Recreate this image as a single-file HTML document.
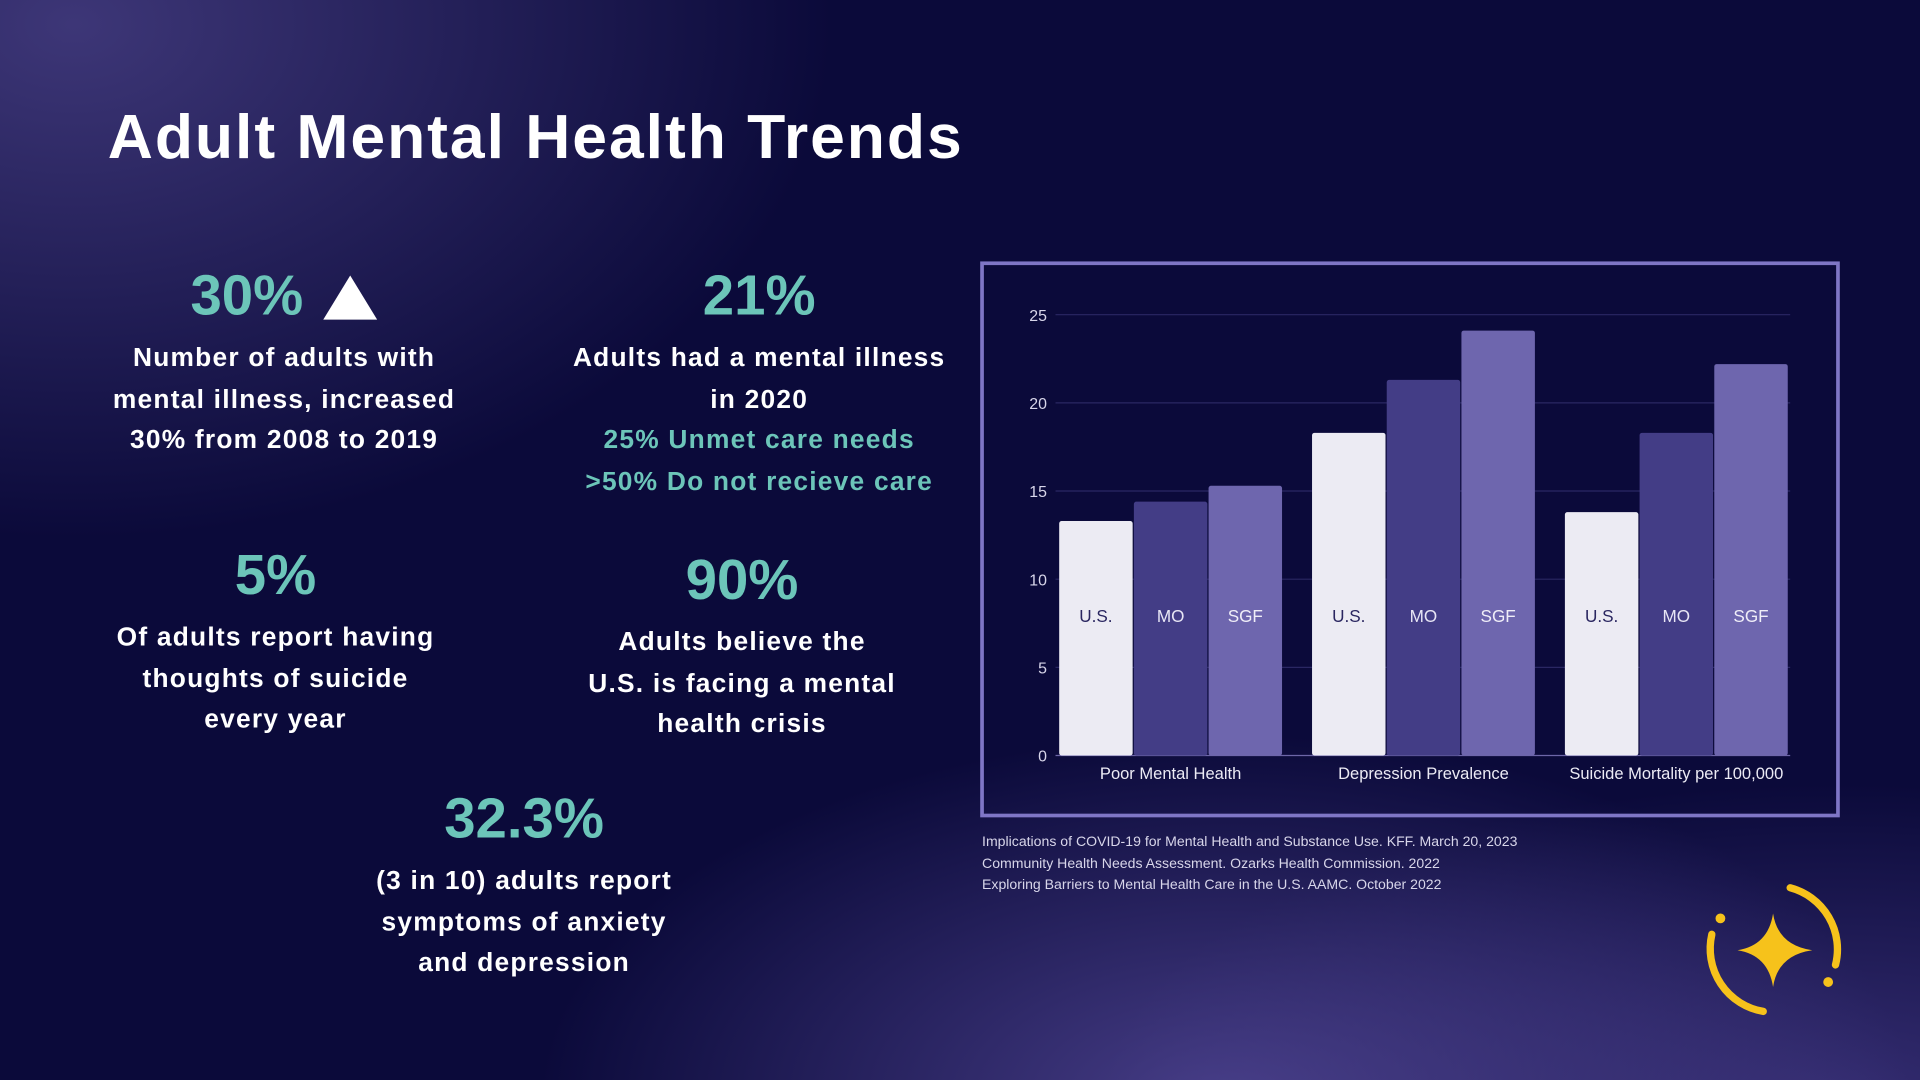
<!DOCTYPE html>
<html><head><meta charset="utf-8">
<style>
html,body{margin:0;padding:0;width:1920px;height:1080px;overflow:hidden;background:#0b0a3a}
#stage{position:absolute;left:0;top:0;width:1568px;height:882px;transform:scale(1.2244898);transform-origin:0 0;
background:
radial-gradient(ellipse 620px 420px at 60px 20px,rgba(70,62,130,.85),rgba(70,62,130,0) 100%),
radial-gradient(ellipse 560px 300px at 1000px 900px,rgba(90,78,160,.75),rgba(90,78,160,0) 100%),
radial-gradient(ellipse 600px 260px at 1500px 900px,rgba(80,68,150,.6),rgba(80,68,150,0) 100%),
#0b0a3a;font-family:"Liberation Sans",sans-serif;color:#fff}
.t{position:absolute;text-align:center;font-weight:bold}
.big{color:#6cc5b9;font-size:46px;line-height:50px}
.txt{font-size:21.5px;line-height:33.5px;letter-spacing:1px}
.teal{color:#6cc5b9}
</style></head><body>
<div id="stage">
<div style="position:absolute;left:88px;top:82px;font-size:51px;font-weight:bold;letter-spacing:1.6px">Adult Mental Health Trends</div>

<div class="t" style="left:52px;width:360px;top:216px">
<div class="big">30% <span style="display:inline-block;width:0;height:0;border-left:22px solid transparent;border-right:22px solid transparent;border-bottom:36px solid #fff;vertical-align:-4px;margin-left:4px"></span></div>
<div class="txt" style="margin-top:10px">Number of adults with<br>mental illness, increased<br>30% from 2008 to 2019</div></div>

<div class="t" style="left:420px;width:400px;top:216px">
<div class="big">21%</div>
<div class="txt" style="margin-top:10px">Adults had a mental illness<br>in 2020<br><span class="teal">25% Unmet care needs<br>&gt;50% Do not recieve care</span></div></div>

<div class="t" style="left:45px;width:360px;top:444px">
<div class="big">5%</div>
<div class="txt" style="margin-top:10px">Of adults report having<br>thoughts of suicide<br>every year</div></div>

<div class="t" style="left:406px;width:400px;top:448px">
<div class="big">90%</div>
<div class="txt" style="margin-top:10px">Adults believe the<br>U.S. is facing a mental<br>health crisis</div></div>

<div class="t" style="left:228px;width:400px;top:643px">
<div class="big">32.3%</div>
<div class="txt" style="margin-top:10px">(3 in 10) adults report<br>symptoms of anxiety<br>and depression</div></div>

<svg id="chart" style="position:absolute;left:0;top:0" width="1568" height="882">
<rect x="802" y="215" width="699" height="451" fill="none" stroke="#7f76c6" stroke-width="3"/>
</svg>

<div style="position:absolute;left:802px;top:680px;font-size:11.5px;line-height:17.5px;color:#d8d6ea">
Implications of COVID-19 for Mental Health and Substance Use. KFF. March 20, 2023<br>
Community Health Needs Assessment. Ozarks Health Commission. 2022<br>
Exploring Barriers to Mental Health Care in the U.S. AAMC. October 2022</div>

<svg style="position:absolute;left:1385px;top:715px;overflow:visible" width="130" height="125">
<path d="M 77 10 A 52 52 0 0 1 114 73" fill="none" stroke="#f6c21b" stroke-width="6" stroke-linecap="round"/>
<path d="M 13 48 A 52 52 0 0 0 55 111" fill="none" stroke="#f6c21b" stroke-width="6" stroke-linecap="round"/>
<circle cx="20" cy="35" r="4" fill="#f6c21b"/>
<circle cx="108" cy="87" r="4" fill="#f6c21b"/>
<path d="M63 31 Q67 57 95 61 Q67 65 63 91 Q59 65 34 61 Q59 57 63 31Z" fill="#f6c21b"/>
</svg>
</div>
<script>
const categories = ["Poor Mental Health","Depression Prevalence","Suicide Mortality per 100,000"];
const seriesNames = ["U.S.","MO","SGF"];
const usValues = [13.3, 18.3, 13.8];
const moValues = [14.4, 21.3, 18.3];
const sgfValues = [15.3, 24.1, 22.2];
const yTicks = [0,5,10,15,20,25];
const seriesValues = [usValues, moValues, sgfValues];
const colors = ["#ecebf3","#433d86","#6e66ae"];
const labelColors = ["#2a2660","#e8e6f5","#f0eef8"];
const svg = document.getElementById('chart');
const NS = "http://www.w3.org/2000/svg";
const plotL=862, plotR=1462, plotT=257, plotB=617, yMax=25;
const y = v => plotB - v/yMax*(plotB-plotT);
const groupW = 206.5;
const barW = 60, gap = 1;
const xBar = (g,s) => plotL + 3 + g*groupW + s*(barW+gap);
yTicks.forEach(t=>{
  const l=document.createElementNS(NS,'line');
  
  
  l.setAttribute('x1',plotL);l.setAttribute('x2',plotR);l.setAttribute('y1',y(t));l.setAttribute('y2',y(t));
  l.setAttribute('stroke',t===0?'#6d66a8':'#2a2763');l.setAttribute('stroke-width','1');
  svg.appendChild(l);
  const tx=document.createElementNS(NS,'text');
  
  
  tx.setAttribute('x',855);tx.setAttribute('y',y(t)+5);tx.setAttribute('text-anchor','end');
  tx.setAttribute('fill','#d8d6ea');tx.setAttribute('font-size','13');tx.setAttribute('font-family','Liberation Sans, sans-serif');
  tx.textContent=t;svg.appendChild(tx);
});
categories.forEach((c,g)=>{
  seriesValues.forEach((vals,s)=>{
    const r=document.createElementNS(NS,'rect');
    
    
    r.setAttribute('x',xBar(g,s));r.setAttribute('y',y(vals[g]));r.setAttribute('width',barW);r.setAttribute('height',plotB-y(vals[g]));
    r.setAttribute('rx',2);r.setAttribute('fill',colors[s]);
    svg.appendChild(r);
    const tx=document.createElementNS(NS,'text');
    
    
    tx.setAttribute('x',xBar(g,s)+barW/2);tx.setAttribute('y',508);tx.setAttribute('text-anchor','middle');
    tx.setAttribute('fill',labelColors[s]);tx.setAttribute('font-size','14');tx.setAttribute('font-family','Liberation Sans, sans-serif');
    tx.textContent=seriesNames[s];svg.appendChild(tx);
  });
  const cl=document.createElementNS(NS,'text');
  
  
  cl.setAttribute('x',xBar(g,1)+barW/2);cl.setAttribute('y',636);cl.setAttribute('text-anchor','middle');
  cl.setAttribute('fill','#ecebf5');cl.setAttribute('font-size','13.5');cl.setAttribute('font-family','Liberation Sans, sans-serif');
  cl.textContent=c;svg.appendChild(cl);
});
</script>
</body></html>
